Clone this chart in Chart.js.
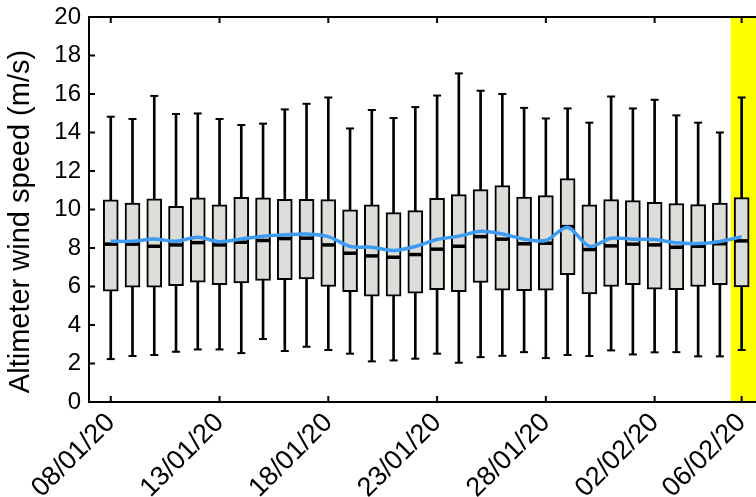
<!DOCTYPE html>
<html>
<head>
<meta charset="utf-8">
<script src="https://cdn.jsdelivr.net/npm/chart.js@4.4.1/dist/chart.umd.min.js"></script>
<style>
  html, body { margin: 0; padding: 0; background: #fff; }
</style>
</head>
<body>
<canvas id="chartWind" width="756" height="497"></canvas>
<script>
// ================= DATA =================
const dayLabels = [
    '08/01/20', '09/01/20', '10/01/20', '11/01/20', '12/01/20', '13/01/20',
    '14/01/20', '15/01/20', '16/01/20', '17/01/20', '18/01/20', '19/01/20',
    '20/01/20', '21/01/20', '22/01/20', '23/01/20', '24/01/20', '25/01/20',
    '26/01/20', '27/01/20', '28/01/20', '29/01/20', '30/01/20', '31/01/20',
    '01/02/20', '02/02/20', '03/02/20', '04/02/20', '05/02/20', '06/02/20'
];
const tickDays = [0, 5, 10, 15, 20, 25, 29];
const yTicks = [0, 2, 4, 6, 8, 10, 12, 14, 16, 18, 20];
const yTitle = 'Altimeter wind speed (m/s)';

const whiskerHigh = [14.82, 14.70, 15.90, 14.96, 14.99, 14.70, 14.39, 14.46, 15.20, 15.49,
                     15.82, 14.21, 15.17, 14.75, 15.32, 15.92, 17.07, 16.17, 16.00, 15.28,
                     14.73, 15.25, 14.51, 15.87, 15.25, 15.70, 14.89, 14.51, 14.00, 15.82];
const q3 = [10.50, 10.34, 10.55, 10.17, 10.60, 10.24, 10.63, 10.60, 10.53, 10.53,
            10.51, 9.98, 10.24, 9.84, 9.94, 10.58, 10.77, 11.03, 11.24, 10.65,
            10.72, 11.60, 10.24, 10.51, 10.46, 10.37, 10.31, 10.25, 10.34, 10.62];
const medians = [8.20, 8.20, 8.09, 8.16, 8.28, 8.16, 8.30, 8.39, 8.49, 8.51,
                 8.16, 7.73, 7.59, 7.52, 7.66, 7.94, 8.09, 8.59, 8.46, 8.22,
                 8.25, 9.11, 7.92, 8.11, 8.20, 8.16, 8.04, 8.09, 8.22, 8.37];
const q1 = [5.76, 5.96, 5.96, 6.04, 6.22, 6.10, 6.19, 6.31, 6.35, 6.40,
            6.00, 5.73, 5.50, 5.50, 5.65, 5.83, 5.73, 6.21, 5.81, 5.78,
            5.81, 6.61, 5.62, 6.00, 6.09, 5.86, 5.83, 6.00, 6.10, 5.98];
const whiskerLow = [2.23, 2.39, 2.44, 2.61, 2.73, 2.73, 2.54, 3.27, 2.65, 2.87,
                    2.70, 2.51, 2.11, 2.16, 2.25, 2.51, 2.04, 2.33, 2.40, 2.59,
                    2.28, 2.44, 2.39, 2.68, 2.47, 2.58, 2.59, 2.37, 2.37, 2.70];
const means = [8.35, 8.35, 8.47, 8.35, 8.56, 8.33, 8.47, 8.61, 8.68, 8.73,
               8.59, 8.08, 8.04, 7.87, 8.08, 8.44, 8.61, 8.87, 8.73, 8.46,
               8.39, 9.08, 8.09, 8.51, 8.46, 8.44, 8.27, 8.23, 8.34, 8.59];

const highlightFrom = 28.5;   // yellow band start (day index)

const FONT = 'Liberation Sans';

// ================= PLUGINS =================
const bandPlugin = {
    id: 'band',
    beforeDatasetsDraw(chart) {
        const { ctx, chartArea, scales } = chart;
        const x0 = scales.x.getPixelForValue(highlightFrom);
        ctx.save();
        ctx.fillStyle = '#ffff00';
        ctx.fillRect(x0, chartArea.top, chartArea.right - x0, chartArea.bottom - chartArea.top);
        ctx.restore();
    }
};

const framePlugin = {
    id: 'frame',
    afterDraw(chart) {
        const { ctx, chartArea, scales } = chart;
        const { left, right, top, bottom } = chartArea;
        ctx.save();
        ctx.strokeStyle = '#000';
        ctx.lineWidth = 2;
        ctx.beginPath();
        ctx.moveTo(right + 2, top);
        ctx.lineTo(left, top);
        ctx.lineTo(left, bottom);
        ctx.lineTo(right + 2, bottom);
        ctx.stroke();
        ctx.beginPath();
        tickDays.forEach(function (d) {
            const x = scales.x.getPixelForValue(d);
            ctx.moveTo(x, bottom); ctx.lineTo(x, bottom - 6);
            ctx.moveTo(x, top); ctx.lineTo(x, top + 6);
        });
        yTicks.forEach(function (v) {
            const y = scales.y.getPixelForValue(v);
            ctx.moveTo(left, y); ctx.lineTo(left + 6, y);
        });
        ctx.stroke();

        // y axis title, sitting a bit below the axis centre like the original
        ctx.translate(21, (top + bottom) / 2 + 12);
        ctx.rotate(-Math.PI / 2);
        ctx.font = '29px ' + FONT;
        ctx.fillStyle = '#000';
        ctx.textAlign = 'center';
        ctx.textBaseline = 'middle';
        ctx.fillText(yTitle, 0, 0);
        ctx.restore();
    }
};

// ================= CHART =================
const days = dayLabels.map((_, i) => i);

new Chart(document.getElementById('chartWind'), {
    type: 'bar',
    data: {
        datasets: [
            {
                type: 'line',
                label: 'Mean',
                data: days.map(i => ({ x: i, y: means[i] })),
                borderColor: '#3d9bf2',
                borderWidth: 3.5,
                pointRadius: 0,
                tension: 0.3,
                order: 0
            },
            {
                type: 'scatter',
                label: 'Caps',
                data: days.map(i => ({ x: i, y: whiskerHigh[i] }))
                    .concat(days.map(i => ({ x: i, y: whiskerLow[i] }))),
                pointStyle: 'line',
                pointRadius: 4,
                borderColor: '#000',
                borderWidth: 2,
                order: 1
            },
            {
                type: 'scatter',
                label: 'Median',
                data: days.map(i => ({ x: i, y: medians[i] })),
                pointStyle: 'line',
                pointRadius: 7,
                borderColor: '#000',
                borderWidth: 3.5,
                order: 2
            },
            {
                label: 'Box',
                data: days.map(i => ({ x: i, y: [q1[i], q3[i]] })),
                backgroundColor: '#dcdcd9',
                borderColor: '#000',
                borderWidth: 2,
                borderSkipped: false,
                barThickness: 15,
                grouped: false,
                order: 3
            },
            {
                label: 'Whisker',
                data: days.map(i => ({ x: i, y: [whiskerLow[i], whiskerHigh[i]] })),
                backgroundColor: '#000',
                borderWidth: 0,
                barThickness: 2,
                grouped: false,
                order: 4
            }
        ]
    },
    options: {
        responsive: false,
        animation: false,
        layout: { autoPadding: false, padding: { top: 17, right: 0, bottom: 0, left: 0 } },
        plugins: {
            legend: { display: false },
            tooltip: { enabled: false }
        },
        scales: {
            x: {
                type: 'linear',
                offset: false,
                min: -1,
                max: 29.66,
                grid: { display: false, drawTicks: false, offset: false },
                border: { display: false },
                afterBuildTicks: function (scale) {
                    scale.ticks = tickDays.map(v => ({ value: v }));
                },
                afterFit: function (scale) {
                    scale.height = 95;
                    scale.paddingLeft = 0;
                    scale.paddingRight = 0;
                },
                ticks: {
                    autoSkip: false,
                    minRotation: 45,
                    maxRotation: 45,
                    padding: 5,
                    color: '#000',
                    font: { family: FONT, size: 27 },
                    callback: v => dayLabels[v]
                }
            },
            y: {
                min: 0,
                max: 20,
                grid: { display: false, drawTicks: false },
                border: { display: false },
                afterBuildTicks: function (scale) {
                    scale.ticks = yTicks.map(v => ({ value: v }));
                },
                afterFit: function (scale) {
                    scale.width = 89;
                    scale.paddingTop = 0;
                    scale.paddingBottom = 0;
                },
                ticks: {
                    padding: 8,
                    color: '#000',
                    font: { family: FONT, size: 24 }
                }
            }
        }
    },
    plugins: [bandPlugin, framePlugin]
});
</script>
</body>
</html>
